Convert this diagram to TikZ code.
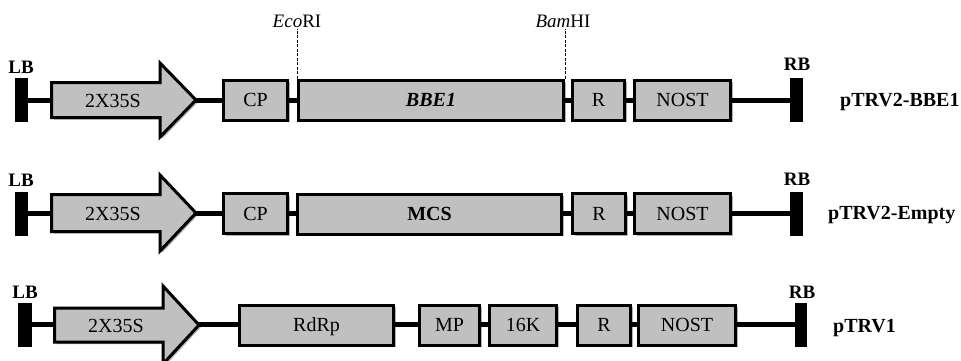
\documentclass[tikz,border=0pt]{standalone}
\usepackage{fontspec}
\setmainfont{Liberation Serif}
\usetikzlibrary{shadows}
\definecolor{boxgray}{RGB}{192,192,192}
\tikzset{
  softshadow/.style={drop shadow={shadow xshift=2pt,shadow yshift=-2pt,opacity=0.3,fill=black}},
  gene/.style={draw,line width=3pt,fill=boxgray,minimum height=40pt,inner sep=0pt,font=\fontsize{20}{22}\selectfont,text height=13.5pt,text depth=0pt,softshadow},
  bordblock/.style={fill=black,draw=none,inner sep=0pt,minimum width=13pt,minimum height=44pt},
  backbone/.style={line width=5pt},
  promoter/.style={draw,line width=3pt,fill=boxgray,line join=miter,softshadow},
  lbl/.style={font=\bfseries\fontsize{19}{21}\selectfont,inner sep=0pt},
  vecname/.style={font=\bfseries\fontsize{20}{22}\selectfont,anchor=west,inner sep=0pt,text height=13.5pt,text depth=0pt},
  sitetxt/.style={font=\fontsize{19}{21}\selectfont,inner sep=0pt},
  cutline/.style={line width=1pt,dash pattern=on 3pt off 1.5pt},
  ptxt/.style={font=\fontsize{20}{22}\selectfont,inner sep=0pt,text height=13.5pt,text depth=0pt}
}
\begin{document}
\begin{tikzpicture}[x=1pt,y=-1pt]
\clip (0,0) rectangle (961,360);
% ---------- Row 1: pTRV2-BBE1 ----------
\node[bordblock] (lb1) at (21.5,100) {};
\node[bordblock] (rb1) at (796.5,100) {};
\draw[backbone] (lb1.center) -- (rb1.center);
\draw[promoter] (51.5,82.5) -- (160,82.5) -- (160,63) -- (196,100) -- (160,137) -- (160,117.5) -- (51.5,117.5) -- cycle;
\node[ptxt] (p1) at (113,101) {2X35S};
\node[gene,minimum width=64pt] (cp1) at (255.5,100) {CP};
\node[gene,minimum width=265pt,font=\bfseries\itshape\fontsize{20}{22}\selectfont] (bbe) at (431,100) {BBE1};
\node[gene,minimum width=52pt] (r1) at (598.5,100) {R};
\node[gene,minimum width=96pt] (nost1) at (682.5,100) {NOST};
\node[lbl] (lbt1) at (21,67) {LB};
\node[lbl] (rbt1) at (797,64) {RB};
\node[vecname] (n1) at (840,100) {pTRV2-BBE1};
\coordinate (eco) at ([yshift=50pt]bbe.north west);
\coordinate (bam) at ([yshift=50pt]bbe.north east);
\draw[cutline] (bbe.north west) -- (eco);
\draw[cutline] (bbe.north east) -- (bam);
\node[sitetxt,anchor=south] (ecot) at ([yshift=0.5pt]eco) {\textit{Eco}RI};
\node[sitetxt,anchor=south] (bamt) at ([xshift=-2pt,yshift=0.5pt]bam) {\textit{Bam}HI};
% ---------- Row 2: pTRV2-Empty ----------
\node[bordblock] (lb2) at (21.5,213.5) {};
\node[bordblock] (rb2) at (796.5,213.5) {};
\draw[backbone] (lb2.center) -- (rb2.center);
\draw[promoter] (51.5,194.5) -- (160,194.5) -- (160,175) -- (196,213) -- (160,251) -- (160,231.5) -- (51.5,231.5) -- cycle;
\node[ptxt] (p2) at (113,214) {2X35S};
\node[gene,minimum width=64pt] (cp2) at (255.5,213.5) {CP};
\node[gene,minimum width=264pt,font=\bfseries\fontsize{20}{22}\selectfont] (mcs) at (429.5,214) {MCS};
\node[gene,minimum width=53pt] (r2) at (599,213.5) {R};
\node[gene,minimum width=96pt] (nost2) at (682.5,213.5) {NOST};
\node[lbl] (lbt2) at (21,180) {LB};
\node[lbl] (rbt2) at (797,179) {RB};
\node[vecname] (n2) at (828,213) {pTRV2-Empty};
% ---------- Row 3: pTRV1 ----------
\node[bordblock,minimum width=14pt] (lb3) at (25,324.5) {};
\node[bordblock,minimum width=12pt] (rb3) at (801,324.5) {};
\draw[backbone] (lb3.center) -- (rb3.center);
\draw[promoter] (54.5,308) -- (163,308) -- (163,286) -- (199,325) -- (163,364) -- (163,342) -- (54.5,342) -- cycle;
\node[ptxt] (p3) at (116,326) {2X35S};
\node[gene,minimum width=154pt] (rdrp) at (316.5,325) {RdRp};
\node[gene,minimum width=60pt] (mp) at (449.5,325) {MP};
\node[gene,minimum width=67pt] (k16) at (523,325) {16K};
\node[gene,minimum width=53pt] (r3) at (604,325) {R};
\node[gene,minimum width=97pt] (nost3) at (687,325) {NOST};
\node[lbl] (lbt3) at (25,292) {LB};
\node[lbl] (rbt3) at (802,292) {RB};
\node[vecname] (n3) at (833,326) {pTRV1};
\end{tikzpicture}
\end{document}
